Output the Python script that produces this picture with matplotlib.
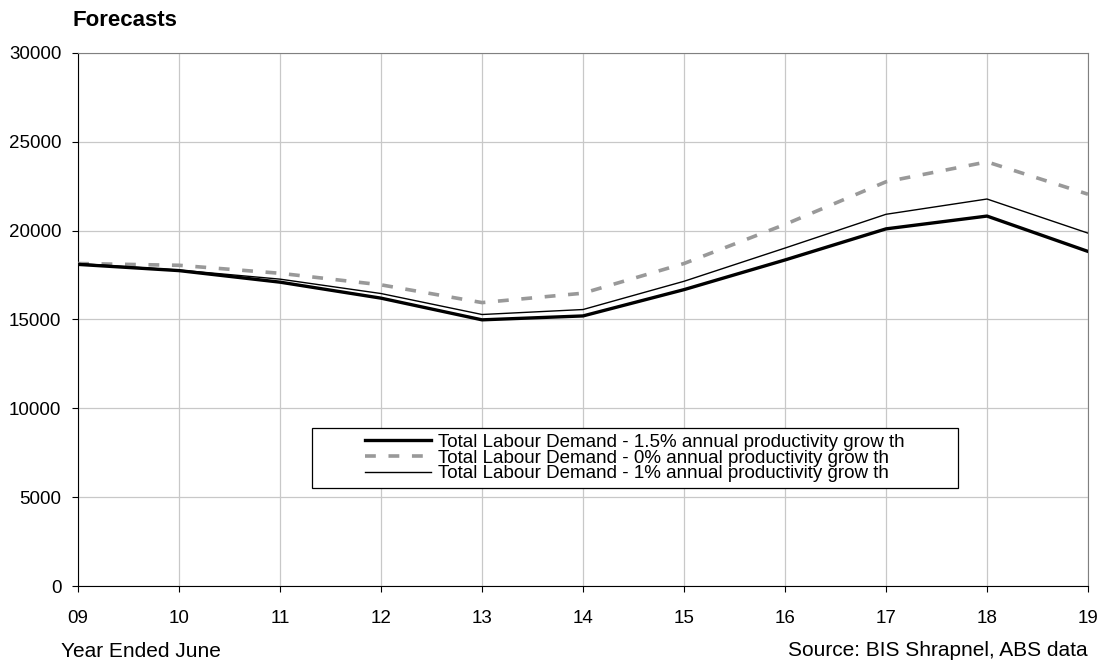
import matplotlib
matplotlib.use('Agg')
import matplotlib.pyplot as plt
from matplotlib.patches import Rectangle

# data
years = ['09', '10', '11', '12', '13', '14', '15', '16', '17', '18', '19']
demand_15 = [18100, 17750, 17100, 16200, 14980, 15200, 16680, 18350, 20100, 20820, 18830]
demand_0 = [18150, 18050, 17600, 16950, 15950, 16480, 18150, 20350, 22750, 23870, 22050]
demand_1 = [18150, 17780, 17270, 16460, 15280, 15560, 17150, 19020, 20920, 21780, 19860]

labels = ['Total Labour Demand - 1.5% annual productivity grow th',
          'Total Labour Demand - 0% annual productivity grow th',
          'Total Labour Demand - 1% annual productivity grow th']

plt.rcParams['font.family'] = ['Liberation Sans', 'DejaVu Sans']

fig = plt.figure(figsize=(11.04, 6.62), dpi=100)
ax = fig.add_axes([0.0707, 0.1148, 0.9148, 0.8052])

x = range(len(years))
ax.plot(x, demand_15, color='black', lw=2.4, label=labels[0], zorder=4)
ax.plot(x, demand_0, color='#999999', lw=2.6, dashes=(3, 3.5), label=labels[1], zorder=3)
ax.plot(x, demand_1, color='black', lw=1.0, label=labels[2], zorder=5)

ax.set_xlim(0, len(years) - 1)
ax.set_ylim(0, 30000)
ax.set_xticks(list(x))
ax.set_xticklabels(years)
ax.set_yticks(range(0, 30001, 5000))
ax.tick_params(labelsize=13.5, length=4, width=0.8, colors='black')
ax.tick_params(axis='x', pad=13.5)
ax.tick_params(axis='y', pad=8)
ax.grid(True, color='#c8c8c8', lw=0.9)
ax.set_axisbelow(True)

for s in ['top', 'right']:
    ax.spines[s].set_color('#808080')
for s in ['left', 'bottom']:
    ax.spines[s].set_color('black')

# legend: white box drawn by hand, entries centred inside it
box = Rectangle((0.2317, 0.1839), 0.6396, 0.1126, transform=ax.transAxes,
                facecolor='white', edgecolor='black', lw=0.9, zorder=6)
ax.add_patch(box)
leg = ax.legend(loc='center', bbox_to_anchor=(0.5515, 0.240), frameon=False,
                fontsize=13.5, handlelength=3.5, handletextpad=0.37,
                labelspacing=-0.08, borderpad=0.0)
leg.set_zorder(7)

fig.text(0.0661, 0.9607, 'Forecasts', fontsize=16, fontweight='bold', ha='left', va='baseline')
fig.text(0.055, 0.0076, 'Year Ended June', fontsize=15, ha='left', va='baseline')
fig.text(0.9855, 0.0085, 'Source: BIS Shrapnel, ABS data', fontsize=15, ha='right', va='baseline')

fig.savefig('out.png', dpi=100)
